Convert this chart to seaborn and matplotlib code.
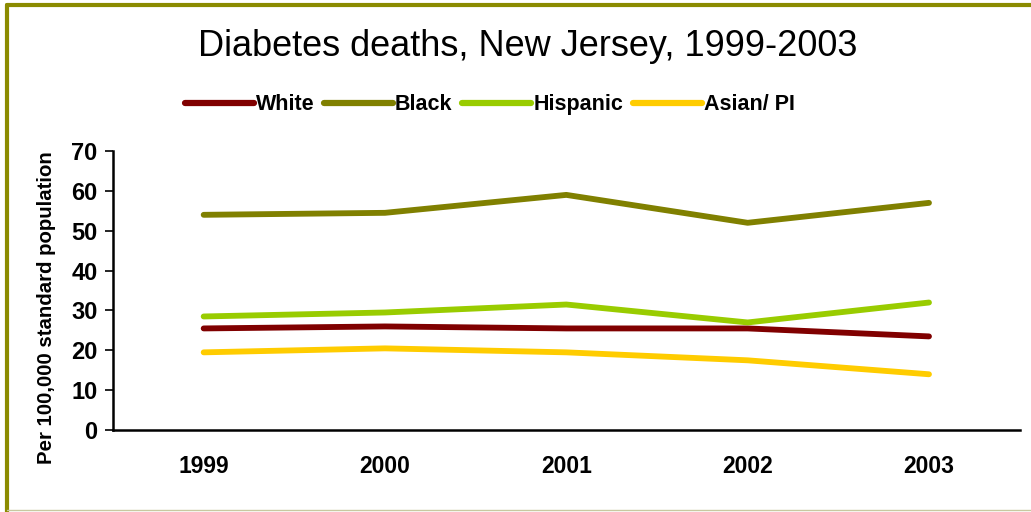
import matplotlib
matplotlib.use("Agg")
import matplotlib.pyplot as plt
import seaborn as sns
import pandas as pd
from matplotlib.lines import Line2D

years = ["1999", "2000", "2001", "2002", "2003"]
white = [25.5, 26.0, 25.5, 25.5, 23.5]
black = [54.0, 54.5, 59.0, 52.0, 57.0]
hispanic = [28.5, 29.5, 31.5, 27.0, 32.0]
asian = [19.5, 20.5, 19.5, 17.5, 14.0]
groups = ["White", "Black", "Hispanic", "Asian/ PI"]
colors = ["#800000", "#808000", "#99CC00", "#FFCC00"]

rows = []
for g, vals in zip(groups, [white, black, hispanic, asian]):
    for i, (y, v) in enumerate(zip(years, vals)):
        rows.append({"pos": i, "year": y, "group": g, "value": v})
df = pd.DataFrame(rows)

sns.set_theme(style="white")
plt.rcParams["font.family"] = ["Liberation Sans", "DejaVu Sans"]
plt.rcParams["text.color"] = "black"
plt.rcParams["axes.labelcolor"] = "black"
plt.rcParams["xtick.color"] = "black"
plt.rcParams["ytick.color"] = "black"

fig = plt.figure(figsize=(10.31, 5.12), dpi=100)
ax = fig.add_axes([0.1096, 0.160, 0.8794, 0.545])

sns.lineplot(data=df, x="pos", y="value", hue="group", hue_order=groups,
             palette=colors, linewidth=4.2, ax=ax, legend=False,
             solid_capstyle="round")

ax.set_xlim(-0.5, 4.5)
ax.set_ylim(0, 70)
ax.set_yticks(range(0, 71, 10))
ax.set_yticklabels([str(v) for v in range(0, 71, 10)], fontsize=17, fontweight="bold")
ax.set_xticks(range(5))
ax.set_xticklabels(years, fontsize=16.5, fontweight="bold")
ax.set_xticks([-0.5 + i for i in range(6)], minor=True)
ax.tick_params(axis="x", which="major", length=0, pad=18)
ax.tick_params(axis="x", which="minor", length=6, width=1.2, direction="out", color="black")
ax.tick_params(axis="y", length=6, width=1.2, direction="out", color="black", left=True, pad=5)
ax.set_xlabel("")
ax.set_ylabel("Per 100,000 standard population", fontsize=14.7, fontweight="bold", labelpad=11)
ax.yaxis.label.set_y(0.44)
for s in ["top", "right"]:
    ax.spines[s].set_visible(False)
for s in ["left", "bottom"]:
    ax.spines[s].set_color("black")
    ax.spines[s].set_linewidth(1.8)

fig.text(0.512, 0.910, "Diabetes deaths, New Jersey, 1999-2003", ha="center", va="center",
         fontsize=26)

handles = [Line2D([0], [0], color=c, lw=4.5, solid_capstyle="round") for c in colors]
leg = fig.legend(handles, groups, loc="center", bbox_to_anchor=(0.475, 0.795), ncol=4,
                 frameon=False, prop={"weight": "bold", "size": 15.5}, handlelength=3.2,
                 handletextpad=0.1, columnspacing=0.45)

# outer frame
fig.add_artist(Line2D([0.007, 1.0], [0.990, 0.990], color="#8B8B00", lw=3, transform=fig.transFigure))
fig.add_artist(Line2D([0.007, 0.007], [0.0, 0.990], color="#8B8B00", lw=3, transform=fig.transFigure))
fig.add_artist(Line2D([0.007, 1.0], [0.004, 0.004], color="#C8C8A0", lw=1, transform=fig.transFigure))

fig.savefig("out.png", dpi=100)
